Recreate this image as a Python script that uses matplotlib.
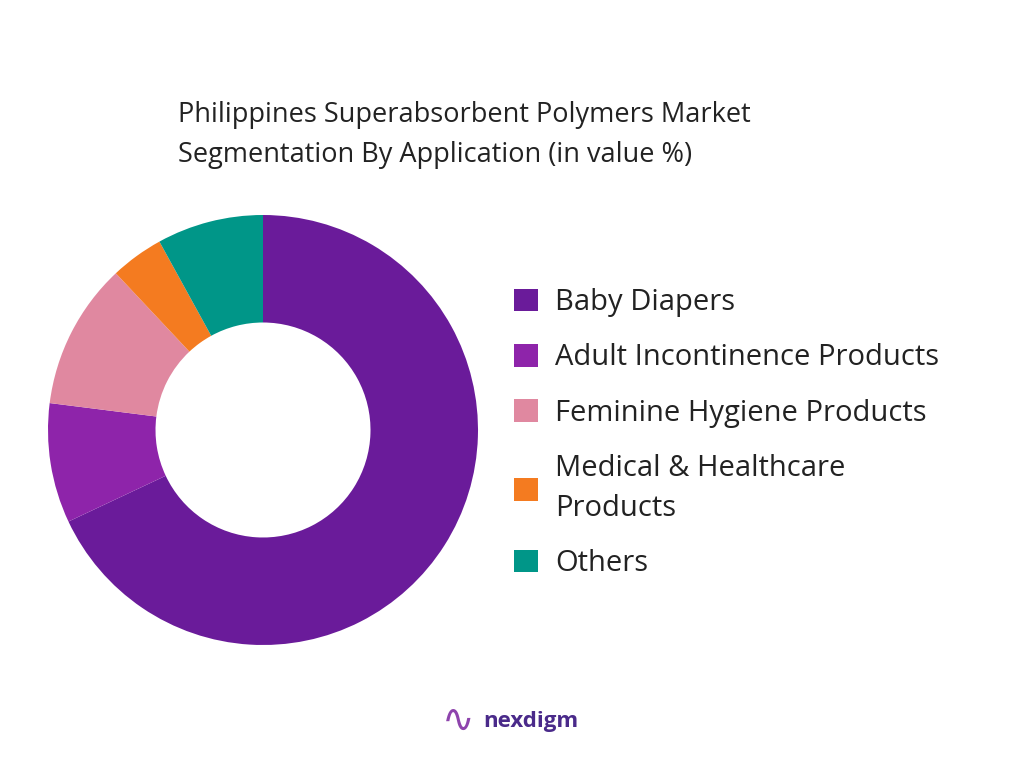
import matplotlib.pyplot as plt
from matplotlib.patches import Patch

labels = ["Baby Diapers", "Adult Incontinence Products", "Feminine Hygiene Products",
          "Medical & Healthcare\nProducts", "Others"]
values = [68, 9, 11, 4, 8]
colors = ["#6A1B9A", "#8E24AA", "#E088A0", "#F47B20", "#009688"]

plt.rcParams["font.family"] = ["Open Sans", "DejaVu Sans"]
fig = plt.figure(figsize=(10.24, 7.68), dpi=100)

# pie axes: center (263, 430) px, radius 215 px
ax = fig.add_axes([(263 - 215) / 1024, (768 - 430 - 215) / 768, 430 / 1024, 430 / 768])
ax.pie(values, colors=colors, startangle=90, counterclock=False,
       wedgeprops=dict(width=0.5, edgecolor="none"), radius=1.0)
ax.set_xlim(-1, 1)
ax.set_ylim(-1, 1)
ax.set_aspect("equal")

fig.text(178 / 1024, 1 - 115 / 768, "Philippines Superabsorbent Polymers Market",
         fontsize=19.5, color="#222222", va="center")
fig.text(178 / 1024, 1 - 155 / 768, "Segmentation By Application (in value %)",
         fontsize=19.5, color="#222222", va="center")

handles = [Patch(facecolor=c, edgecolor="none") for c in colors]
leg = fig.legend(handles, labels, loc="upper left", bbox_to_anchor=(488 / 1024, 1 - 262 / 768),
                 frameon=False, fontsize=21, handlelength=0.8, handleheight=0.8,
                 handletextpad=0.6, labelspacing=0.9, labelcolor="#222222")
for t in leg.get_texts():
    t.set_linespacing(1.5)

fig.text(483 / 1024, 1 - 722 / 768, "nexdigm", fontsize=16, fontweight="bold",
         color="#4A2A8A", va="center")
fig.text(458 / 1024, 1 - 722 / 768, "\u223F", fontsize=28, color="#8E44AD",
         va="center", ha="center")

fig.savefig("out.png", dpi=100)
